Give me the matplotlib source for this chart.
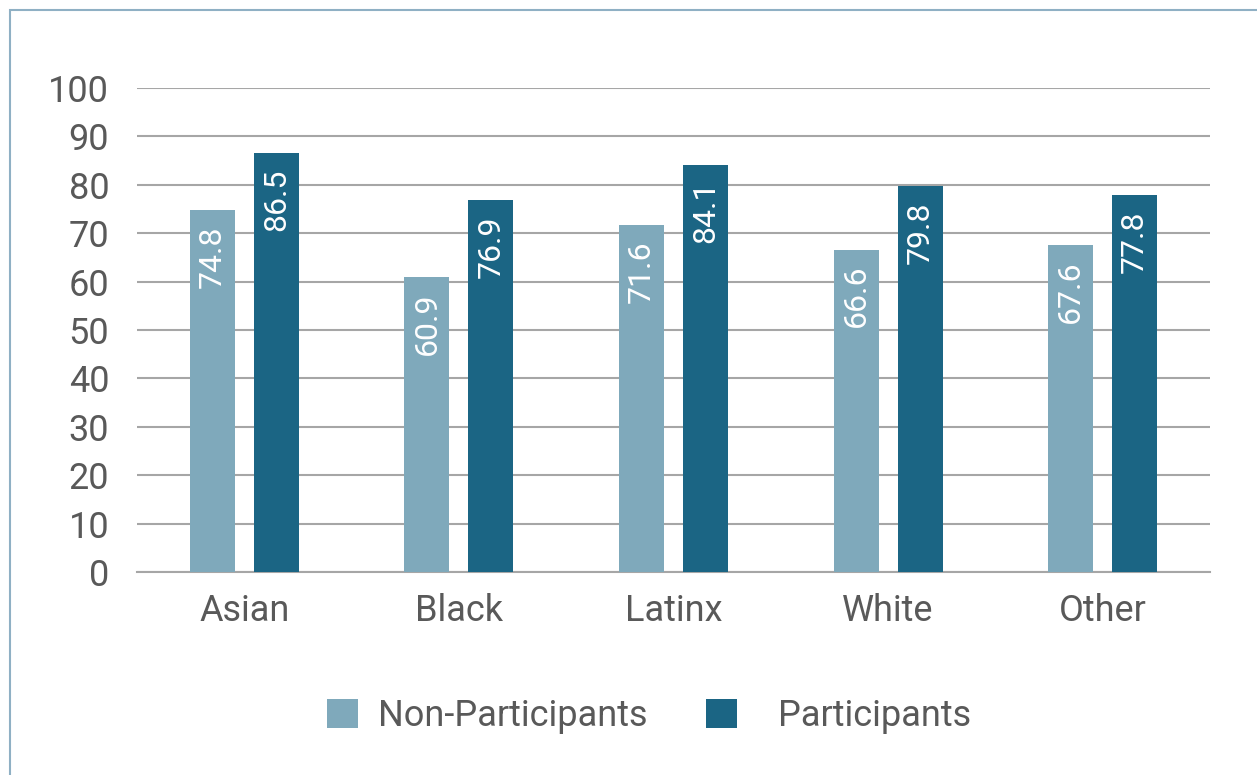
import matplotlib
matplotlib.use("Agg")
import matplotlib.pyplot as plt
import matplotlib.patches as mpatches
import numpy as np

categories = ["Asian", "Black", "Latinx", "White", "Other"]
non_participants = [74.8, 60.9, 71.6, 66.6, 67.6]
participants = [86.5, 76.9, 84.1, 79.8, 77.8]
series_names = ["Non-Participants", "Participants"]
yticks = [0, 10, 20, 30, 40, 50, 60, 70, 80, 90, 100]

plt.rcParams['font.family'] = ['Liberation Sans Narrow', 'Roboto', 'DejaVu Sans']
TXT = '#595959'
C_LIGHT = '#7fa9bb'
C_DARK = '#1b6584'
GRID = '#a6a6a6'

W, H = 1257, 775
fig = plt.figure(figsize=(W / 100, H / 100), dpi=100)
ax = fig.add_axes([137 / W, 1 - 572 / H, (1210 - 137) / W, (572 - 88) / H])

x = np.arange(len(categories))
bw = 0.21
off = 0.149
b1 = ax.bar(x - off, non_participants, bw, color=C_LIGHT, zorder=3, label=series_names[0])
b2 = ax.bar(x + off, participants, bw, color=C_DARK, zorder=3, label=series_names[1])

for bars, vals in ((b1, non_participants), (b2, participants)):
    for r, v in zip(bars, vals):
        ax.annotate(f"{v:.1f}", (r.get_x() + r.get_width() / 2, v),
                    xytext=(0, -11), textcoords='offset points',
                    rotation=90, ha='center', va='top', color='white',
                    fontsize=23, zorder=4)

ax.set_xlim(-0.5, len(categories) - 0.5)
ax.set_ylim(0, 100)
ax.set_yticks(yticks)
ax.set_yticklabels([str(t) for t in yticks])
ax.set_xticks(x)
ax.set_xticklabels(categories)
ax.tick_params(axis='y', length=0, pad=20, labelsize=26, labelcolor=TXT)
ax.tick_params(axis='x', length=0, pad=15, labelsize=26, labelcolor=TXT)
ax.grid(axis='y', color=GRID, lw=1.5, zorder=0)
ax.set_axisbelow(True)
for s in ['top', 'right', 'left']:
    ax.spines[s].set_visible(False)
ax.spines['bottom'].set_color(GRID)
ax.spines['bottom'].set_linewidth(1.5)

leg_kw = dict(loc='center left', frameon=False, fontsize=26,
              handlelength=0.85, handleheight=0.85, borderpad=0,
              borderaxespad=0, labelcolor=TXT)
leg1 = fig.legend(handles=[b1], labels=[series_names[0]],
                  bbox_to_anchor=(327 / W, 1 - 716 / H), handletextpad=0.55, **leg_kw)
leg2 = fig.legend(handles=[b2], labels=[series_names[1]],
                  bbox_to_anchor=(706 / W, 1 - 716 / H), handletextpad=1.15, **leg_kw)

border = mpatches.Rectangle((10 / W, -0.1), 1.5, 1 - 10 / H + 0.1,
                            transform=fig.transFigure, fill=False,
                            edgecolor='#8fb0c4', lw=1.5)
fig.patches.append(border)

fig.savefig("out.png", dpi=100)
